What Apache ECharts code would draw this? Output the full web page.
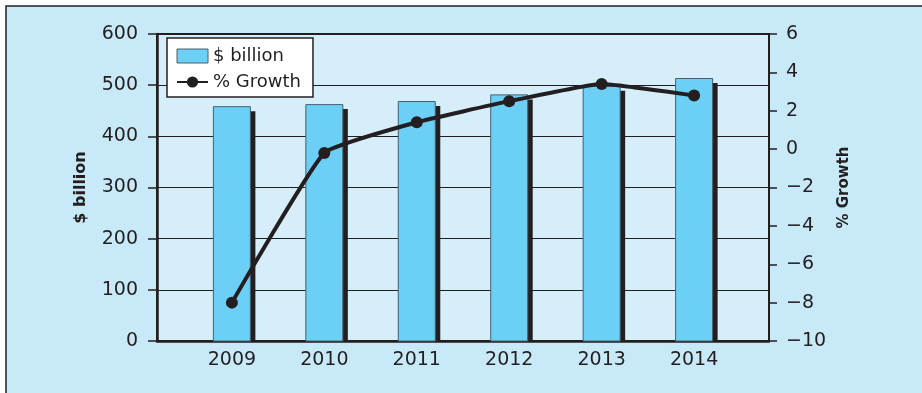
<!DOCTYPE html>
<html>
<head>
<meta charset="utf-8">
<script src="https://cdn.jsdelivr.net/npm/echarts@6/dist/echarts.min.js"></script>
<style>
html,body{margin:0;padding:0;background:#ffffff;}
#c{width:922px;height:393px;}
</style>
</head>
<body>
<div id="c"></div>
<script>
var years = [2009, 2010, 2011, 2012, 2013, 2014];
var billions = [458, 462, 468, 481, 498, 513];
var growth = [-8.0, -0.2, 1.4, 2.5, 3.4, 2.8];
var leftTicks = {min: 0, max: 600, interval: 100};
var rightTicks = {min: -10, max: 6, interval: 2};

var INK = '#231f20';
var BAR = '#6ccff5';
var FONT = 'DejaVu Sans';
var chart = echarts.init(document.getElementById('c'), null, {renderer: 'canvas'});

function pairs(xs, ys) { return xs.map(function (x, i) { return [x, ys[i]]; }); }

function renderBar(params, api) {
  var xv = api.value(0), yv = api.value(1);
  var top = api.coord([xv, yv]);
  var base = api.coord([xv, 0]);
  var w = 37, sx = 5, sy = 4.5;
  var left = top[0] - w / 2;
  return {
    type: 'group',
    children: [
      {type: 'rect', shape: {x: left + sx, y: top[1] + sy, width: w, height: base[1] - top[1] - sy},
       style: {fill: INK}},
      {type: 'rect', shape: {x: left, y: top[1], width: w, height: base[1] - top[1]},
       style: {fill: BAR, stroke: '#46606c', lineWidth: 1}}
    ]
  };
}

chart.setOption({
  backgroundColor: '#ffffff',
  animation: false,
  graphic: [
    {type: 'rect', z: -10, shape: {x: 6, y: 6, width: 940, height: 400},
     style: {fill: '#c7e9f8', stroke: INK, lineWidth: 1.5}}
  ],
  grid: {left: 157, right: 153, top: 34, bottom: 52, show: true,
         backgroundColor: '#d6edfa', borderColor: INK, borderWidth: 2},
  legend: {
    left: 167, top: 38, orient: 'vertical',
    backgroundColor: '#ffffff', borderColor: INK, borderWidth: 1.5,
    padding: [9, 12, 6, 9], itemWidth: 31, itemHeight: 14, itemGap: 8,
    textStyle: {fontFamily: FONT, fontSize: 18, color: INK},
    data: [
      {name: '$ billion', icon: 'rect', itemStyle: {color: BAR, borderColor: '#46606c', borderWidth: 1}},
      {name: '% Growth'}
    ]
  },
  xAxis: {
    type: 'value', min: 2008.19, max: 2014.81,
    axisLine: {show: true, lineStyle: {color: INK, width: 2.5}},
    axisTick: {show: false},
    splitLine: {show: false},
    axisLabel: {customValues: years, margin: 10, fontFamily: FONT, fontSize: 19, color: INK,
                formatter: function (v) { return String(Math.round(v)); }}
  },
  yAxis: [
    {
      type: 'value', position: 'left', min: leftTicks.min, max: leftTicks.max, interval: leftTicks.interval,
      name: '$ billion', nameLocation: 'middle', nameRotate: 90, nameGap: 68,
      nameTextStyle: {fontFamily: FONT, fontSize: 16, fontWeight: 'bold', color: INK},
      axisLine: {show: true, lineStyle: {color: INK, width: 2.5}},
      axisTick: {show: true, length: 9, lineStyle: {color: INK, width: 1.5}},
      axisLabel: {margin: 19, fontFamily: FONT, fontSize: 19, color: INK},
      splitLine: {show: true, lineStyle: {color: INK, width: 1}}
    },
    {
      type: 'value', position: 'right', min: rightTicks.min, max: rightTicks.max, interval: rightTicks.interval,
      name: '% Growth', nameLocation: 'middle', nameRotate: 90, nameGap: 67,
      nameTextStyle: {fontFamily: FONT, fontSize: 15, fontWeight: 'bold', color: INK},
      axisLine: {show: true, lineStyle: {color: INK, width: 2}},
      axisTick: {show: true, length: 8, lineStyle: {color: INK, width: 1.5}},
      axisLabel: {margin: 17, fontFamily: FONT, fontSize: 19, color: INK,
                  formatter: function (v) { return String(v).replace('-', '\u2212'); }},
      splitLine: {show: false}
    }
  ],
  series: [
    {
      name: '$ billion', type: 'custom', xAxisIndex: 0, yAxisIndex: 0,
      renderItem: renderBar,
      encode: {x: 0, y: 1},
      data: pairs(years, billions),
      itemStyle: {color: BAR},
      z: 2
    },
    {
      name: '% Growth', type: 'line', xAxisIndex: 0, yAxisIndex: 1,
      data: pairs(years, growth),
      smooth: 0.12,
      symbol: 'circle', symbolSize: 12,
      lineStyle: {color: INK, width: 4},
      itemStyle: {color: INK},
      z: 5
    }
  ]
});
</script>
</body>
</html>
